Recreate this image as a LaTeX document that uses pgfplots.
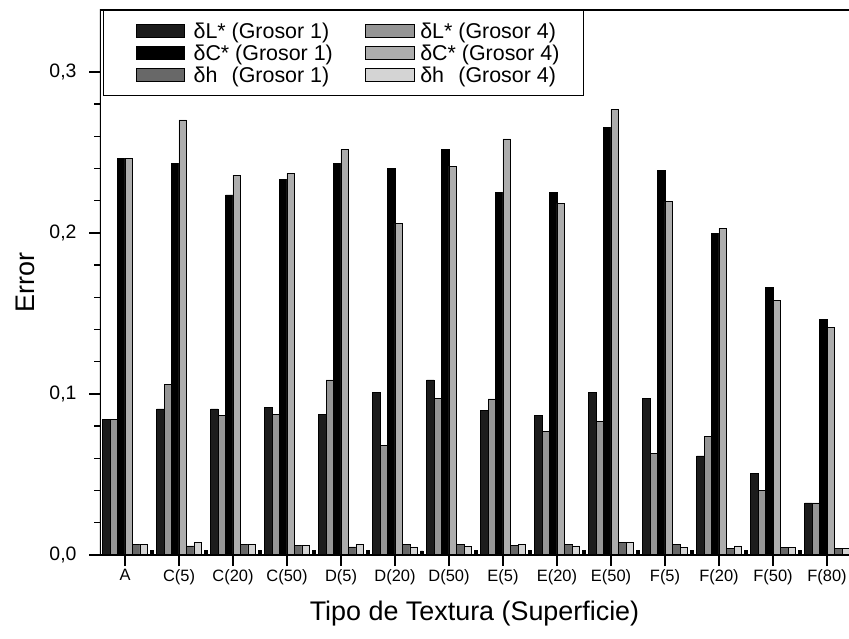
\documentclass[border=0pt]{standalone}
\usepackage{fontspec}
\setmainfont{Liberation Sans}
\usepackage{pgfplots}
\usepackage{pgfplotstable}
\pgfplotsset{compat=1.18}

\definecolor{cLa}{HTML}{1C1C1C}
\definecolor{cLb}{HTML}{959595}
\definecolor{cCa}{HTML}{000000}
\definecolor{cCb}{HTML}{ADADAD}
\definecolor{cha}{HTML}{686868}
\definecolor{chb}{HTML}{D4D4D4}

\pgfplotstableread{
x L1 L4 C1 C4 h1 h4 t
0 0.0840 0.0840 0.2464 0.2464 0.0066 0.0066 0.0030
1 0.0907 0.1062 0.2433 0.2702 0.0056 0.0077 0.0030
2 0.0907 0.0865 0.2236 0.2360 0.0066 0.0066 0.0030
3 0.0915 0.0870 0.2333 0.2371 0.0060 0.0060 0.0030
4 0.0870 0.1087 0.2433 0.2520 0.0050 0.0066 0.0030
5 0.1010 0.0680 0.2402 0.2060 0.0066 0.0050 0.0025
6 0.1087 0.0975 0.2520 0.2416 0.0068 0.0055 0.0030
7 0.0900 0.0969 0.2253 0.2584 0.0060 0.0066 0.0030
8 0.0865 0.0770 0.2253 0.2184 0.0066 0.0056 0.0030
9 0.1008 0.0828 0.2656 0.2768 0.0077 0.0077 0.0030
10 0.0975 0.0633 0.2391 0.2195 0.0066 0.0046 0.0030
11 0.0615 0.0739 0.1998 0.2029 0.0043 0.0056 0.0030
12 0.0506 0.0398 0.1663 0.1580 0.0046 0.0046 0.0030
13 0.0323 0.0323 0.1460 0.1412 0.0040 0.0040 0.0030
}\data

\pgfplotsset{
  mybar/.style={ybar, bar width=0.139, draw=black, line width=0.9pt},
  legA/.style={legend image code/.code={\path[draw=none,fill=none] (0bp,0bp) -- (66bp,0bp); \draw[##1, line width=0.9pt] (11bp,-6.5bp) rectangle (59bp,6.5bp);}},
  legB/.style={legend image code/.code={\path[draw=none,fill=none] (0bp,0bp) -- (53bp,0bp); \draw[##1, line width=0.9pt] (0bp,-6.5bp) rectangle (49bp,6.5bp);}},
}

\begin{document}
\begin{tikzpicture}
\begin{axis}[
  name=ax,
  scale only axis,
  width=749bp, height=545bp,
  xmin=-0.463, xmax=13.407,
  ymin=0, ymax=0.3385,
  axis line style={draw=none},
  xtick={0,...,13},
  xticklabels={A,C(5),C(20),C(50),D(5),D(20),D(50),E(5),E(20),E(50),F(5),F(20),F(50),F(80)},
  xtick pos=bottom,
  ytick={0,0.1,0.2,0.3},
  minor y tick num=4,
  ytick pos=left,
  tick align=outside,
  major tick length=11bp,
  minor tick length=6bp,
  every tick/.style={black, line width=1.4pt},
  x tick label style={font=\fontsize{16.5}{18}\selectfont},
  y tick label style={font=\fontsize{19.5}{21}\selectfont, xshift=-9bp},
  yticklabel style={/pgf/number format/.cd, use comma, fixed, fixed zerofill, precision=1},
  /pgf/number format/assume math mode=true,
  xlabel={Tipo de Textura (Superficie)},
  ylabel={Error},
  label style={font=\fontsize{27}{29}\selectfont},
  xlabel style={at={(axis description cs:0.5,0)}, anchor=north, yshift=-42bp},
  ylabel style={at={(axis description cs:-0.100,0.5)}, anchor=center},
  legend columns=2,
  legend cell align=left,
  legend style={at={(rel axis cs:0.004,1)}, anchor=north west, draw=black, line width=1.2pt,
    font=\fontsize{21.5}{23}\selectfont, inner xsep=22bp, inner ysep=10bp, row sep=1bp,
    /tikz/every even column/.append style={column sep=30bp}},
]
\addplot[mybar, legA, bar shift=-0.347, fill=cLa] table[x=x,y=L1]{\data};
\addlegendentry{δL* (Grosor 1)}
\addplot[mybar, legB, bar shift=-0.208, fill=cLb] table[x=x,y=L4]{\data};
\addlegendentry{δL* (Grosor 4)}
\addplot[mybar, legA, bar shift=-0.069, fill=cCa] table[x=x,y=C1]{\data};
\addlegendentry{δC* (Grosor 1)}
\addplot[mybar, legB, bar shift=0.069, fill=cCb] table[x=x,y=C4]{\data};
\addlegendentry{δC* (Grosor 4)}
\addplot[mybar, legA, bar shift=0.208, fill=cha] table[x=x,y=h1]{\data};
\addlegendentry{\rlap{δh}\hphantom{δL*} (Grosor 1)}
\addplot[mybar, legB, bar shift=0.347, fill=chb] table[x=x,y=h4]{\data};
\addlegendentry{\rlap{δh}\hphantom{δL*} (Grosor 4)}
\addplot[ybar, bar width=0.05, bar shift=0.494, fill=black, draw=black, line width=0.6pt, forget plot] table[x=x,y=t]{\data};
\draw[line width=2pt, line cap=rect] (rel axis cs:1,1) -- (rel axis cs:0,1) -- (rel axis cs:0,0) -- (rel axis cs:1,0);
\end{axis}
\pgfresetboundingbox
\path[use as bounding box] ([xshift=-100bp,yshift=-84bp]ax.south west) rectangle ([yshift=10bp]ax.north east);
\end{tikzpicture}
\end{document}
